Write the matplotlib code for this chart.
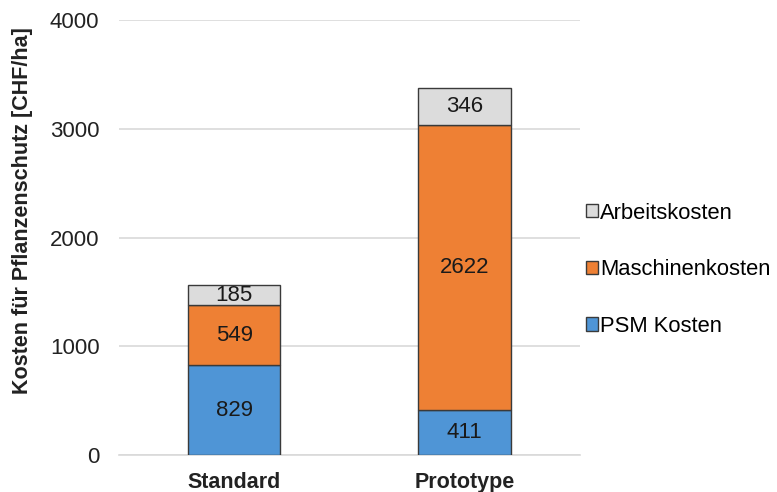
import matplotlib
matplotlib.use("Agg")
import matplotlib.pyplot as plt
import numpy as np

plt.rcParams['font.family'] = ['Liberation Sans', 'DejaVu Sans']

categories = ["Standard", "Prototype"]
psm_kosten = [829, 411]
maschinenkosten = [549, 2622]
arbeitskosten = [185, 346]

series = [
    ("PSM Kosten", psm_kosten, "#4F95D6"),
    ("Maschinenkosten", maschinenkosten, "#EE8034"),
    ("Arbeitskosten", arbeitskosten, "#DCDCDC"),
]

fig = plt.figure(figsize=(7.77, 4.92), dpi=100)
ax = fig.add_axes([0.153, 0.075, 0.593, 0.884])

x = np.arange(len(categories))
bottom = np.zeros(len(categories))
handles = []
for name, vals, color in series:
    vals = np.array(vals, dtype=float)
    bars = ax.bar(x, vals, width=0.4, bottom=bottom, color=color,
                  edgecolor="#3a3a3a", linewidth=1.0, label=name, zorder=3)
    for xi, b, v in zip(x, bottom, vals):
        ax.text(xi, b + v / 2, f"{int(v)}", ha="center", va="center",
                fontsize=16, color="#1a1a1a", zorder=4)
    handles.append(bars)
    bottom += vals

ax.set_xlim(-0.5, 1.5)
ax.set_ylim(0, 4000)
ax.set_yticks([0, 1000, 2000, 3000, 4000])
ax.yaxis.grid(True, color="#d9d9d9", linewidth=1.2, zorder=0)
ax.set_axisbelow(True)
for s in ["top", "right", "left"]:
    ax.spines[s].set_visible(False)
ax.spines["bottom"].set_color("#d9d9d9")
ax.spines["bottom"].set_linewidth(1.2)
ax.tick_params(axis="y", length=0, labelsize=16, colors="#222222", pad=14)
ax.tick_params(axis="x", length=0, labelsize=16, colors="#222222", pad=12)
ax.set_xticks(x)
ax.set_xticklabels(categories, fontweight="bold", fontsize=15.5)
ax.set_ylabel("Kosten für Pflanzenschutz [CHF/ha]", fontsize=15.5,
              fontweight="bold", color="#222222")
ax.yaxis.set_label_coords(-0.186, 0.563)

leg = fig.legend(handles[::-1], [s[0] for s in series][::-1],
                 loc="center left", bbox_to_anchor=(0.729, 0.452),
                 frameon=False, fontsize=15.8, handlelength=0.55,
                 handleheight=0.55, handletextpad=0.1, labelspacing=1.62)

fig.savefig("out.png", dpi=100)
